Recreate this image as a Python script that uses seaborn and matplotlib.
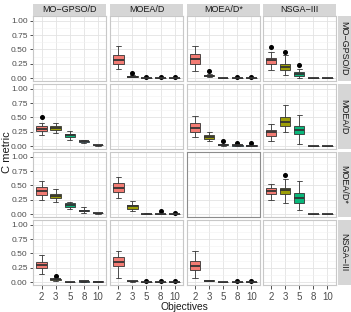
import numpy as np
import pandas as pd
import matplotlib
matplotlib.use("Agg")
import matplotlib.pyplot as plt
from matplotlib.patches import Rectangle
import seaborn as sns

sns.set_theme(style="white")
plt.rcParams['font.family'] = ['Liberation Sans', 'DejaVu Sans']

algos = ["MO\u2212GPSO/D", "MOEA/D", "MOEA/D*", "NSGA\u2212III"]
objectives = ["2", "3", "5", "8", "10"]
palette = ["#F8766D", "#A3A500", "#00BF7D", "#00B0F6", "#E76BF3"]

# panels that hold data: (row algorithm index, column algorithm index)
panel_rows = [0, 0, 0, 1, 1, 1, 2, 2, 2, 3, 3, 3]
panel_cols = [1, 2, 3, 0, 2, 3, 0, 1, 3, 0, 1, 2]

# box statistics per panel, one value per objective (2, 3, 5, 8, 10)
lo = [
    [0.17, 0.015, 0.000, 0.000, 0.000],
    [0.12, 0.020, 0.000, 0.000, 0.000],
    [0.15, 0.060, 0.010, 0.000, 0.000],
    [0.20, 0.230, 0.110, 0.055, 0.010],
    [0.17, 0.090, 0.010, 0.000, 0.000],
    [0.10, 0.250, 0.040, 0.000, 0.000],
    [0.25, 0.220, 0.090, 0.030, 0.010],
    [0.29, 0.050, 0.005, 0.000, 0.000],
    [0.24, 0.200, 0.070, 0.000, 0.000],
    [0.15, 0.020, 0.000, 0.005, 0.000],
    [0.08, 0.010, 0.000, 0.000, 0.000],
    [0.08, 0.020, 0.000, 0.000, 0.000],
]
q1 = [
    [0.25, 0.025, 0.005, 0.004, 0.004],
    [0.24, 0.035, 0.001, 0.004, 0.005],
    [0.25, 0.140, 0.040, 0.001, 0.001],
    [0.26, 0.280, 0.160, 0.070, 0.015],
    [0.25, 0.130, 0.020, 0.010, 0.005],
    [0.18, 0.350, 0.210, 0.001, 0.001],
    [0.34, 0.280, 0.130, 0.050, 0.015],
    [0.39, 0.100, 0.008, 0.004, 0.003],
    [0.35, 0.345, 0.190, 0.001, 0.001],
    [0.25, 0.035, 0.003, 0.012, 0.006],
    [0.28, 0.015, 0.002, 0.004, 0.005],
    [0.22, 0.025, 0.002, 0.004, 0.008],
]
med = [
    [0.32, 0.030, 0.008, 0.007, 0.007],
    [0.33, 0.045, 0.002, 0.006, 0.008],
    [0.31, 0.200, 0.070, 0.002, 0.002],
    [0.30, 0.320, 0.190, 0.085, 0.020],
    [0.32, 0.165, 0.030, 0.020, 0.010],
    [0.24, 0.430, 0.280, 0.002, 0.002],
    [0.41, 0.315, 0.165, 0.065, 0.020],
    [0.46, 0.140, 0.010, 0.006, 0.005],
    [0.41, 0.420, 0.280, 0.002, 0.002],
    [0.30, 0.050, 0.005, 0.018, 0.010],
    [0.36, 0.020, 0.004, 0.006, 0.008],
    [0.28, 0.030, 0.003, 0.006, 0.011],
]
q3 = [
    [0.41, 0.040, 0.012, 0.010, 0.010],
    [0.42, 0.055, 0.004, 0.008, 0.011],
    [0.36, 0.250, 0.110, 0.003, 0.003],
    [0.35, 0.360, 0.220, 0.100, 0.025],
    [0.40, 0.190, 0.035, 0.030, 0.020],
    [0.29, 0.500, 0.350, 0.003, 0.003],
    [0.47, 0.350, 0.200, 0.080, 0.025],
    [0.54, 0.165, 0.013, 0.009, 0.008],
    [0.45, 0.460, 0.370, 0.003, 0.003],
    [0.355, 0.060, 0.007, 0.025, 0.015],
    [0.44, 0.025, 0.007, 0.009, 0.011],
    [0.37, 0.035, 0.005, 0.009, 0.014],
]
hi = [
    [0.56, 0.050, 0.015, 0.013, 0.013],
    [0.56, 0.070, 0.006, 0.010, 0.013],
    [0.45, 0.400, 0.160, 0.004, 0.004],
    [0.40, 0.400, 0.270, 0.110, 0.030],
    [0.53, 0.240, 0.045, 0.040, 0.030],
    [0.38, 0.710, 0.540, 0.004, 0.004],
    [0.58, 0.440, 0.220, 0.120, 0.030],
    [0.65, 0.230, 0.016, 0.012, 0.010],
    [0.53, 0.610, 0.570, 0.004, 0.004],
    [0.47, 0.070, 0.010, 0.030, 0.020],
    [0.54, 0.030, 0.010, 0.012, 0.014],
    [0.55, 0.045, 0.008, 0.012, 0.017],
]
out = [
    [np.nan, 0.090, 0.030, 0.025, 0.025],
    [np.nan, 0.130, np.nan, 0.020, 0.022],
    [0.54, 0.460, 0.230, np.nan, np.nan],
    [0.50, np.nan, np.nan, np.nan, np.nan],
    [np.nan, np.nan, 0.085, 0.065, 0.050],
    [np.nan, np.nan, np.nan, np.nan, np.nan],
    [np.nan, np.nan, np.nan, np.nan, np.nan],
    [np.nan, np.nan, np.nan, 0.055, 0.020],
    [np.nan, 0.680, np.nan, np.nan, np.nan],
    [np.nan, 0.110, np.nan, np.nan, np.nan],
    [np.nan, np.nan, 0.020, 0.022, 0.025],
    [np.nan, np.nan, np.nan, 0.022, 0.028],
]

# build a tidy table: a 9-point sample per box whose quartiles match the stats
records = []
for p in range(len(panel_rows)):
    for j, ob in enumerate(objectives):
        last = hi[p][j] if np.isnan(out[p][j]) else out[p][j]
        sample = [lo[p][j], q1[p][j], q1[p][j], med[p][j], med[p][j],
                  q3[p][j], q3[p][j], hi[p][j], last]
        for v in sample:
            records.append((p, ob, v))
df = pd.DataFrame(records, columns=["panel", "Objectives", "C"])

W, H = 351, 312
fig = plt.figure(figsize=(W / 100, H / 100), dpi=100)

col_left = [33.3, 110.0, 186.7, 262.7]
pan_w = 73.0
row_top = [16.0, 84.0, 152.0, 220.0]
pan_h = 65.2

def rect(x, y, w, h):
    return [x / W, 1 - (y + h) / H, w / W, h / H]

ylo, yhi = -0.05, 1.08
tick_col = "#4D4D4D"
fs_tick = 6.0

for r in range(4):
    for c in range(4):
        ax = fig.add_axes(rect(col_left[c], row_top[r], pan_w, pan_h))
        ax.set_facecolor("white")
        idx = [p for p in range(len(panel_rows)) if panel_rows[p] == r and panel_cols[p] == c]
        if idx:
            sub = df[df["panel"] == idx[0]]
            sns.boxplot(data=sub, x="Objectives", y="C", hue="Objectives",
                        order=objectives, hue_order=objectives, palette=palette,
                        legend=False, width=0.75, linewidth=0.6, linecolor="#333333",
                        saturation=0.92, ax=ax,
                        medianprops=dict(linewidth=1.3, color="#333333"),
                        flierprops=dict(marker="o", markerfacecolor="black",
                                        markeredgecolor="black", markersize=2.6))
        ax.set_xlim(-0.6, 4.6)
        ax.set_ylim(ylo, yhi)
        ax.set_xticks(range(5))
        ax.set_yticks([0, 0.25, 0.5, 0.75, 1.0])
        ax.set_yticks([0.125, 0.375, 0.625, 0.875], minor=True)
        ax.grid(True, which="major", color="#E3E3E3", linewidth=0.6)
        ax.grid(True, which="minor", axis="y", color="#F1F1F1", linewidth=0.4)
        ax.set_axisbelow(True)
        ax.set_xlabel("")
        ax.set_ylabel("")
        border = "#8C8C8C" if (r == 2 and c == 2) else "#C8C8C8"
        for s in ax.spines.values():
            s.set_visible(True)
            s.set_color(border)
            s.set_linewidth(0.8)
        ax.tick_params(axis="both", which="minor", length=0)
        if c == 0:
            ax.set_yticklabels(["0.00", "0.25", "0.50", "0.75", "1.00"])
            ax.tick_params(axis="y", which="major", length=2.5, width=0.6, color="#333333",
                           labelsize=fs_tick, labelcolor=tick_col, pad=1.5, left=True)
        else:
            ax.tick_params(axis="y", which="major", length=0, labelleft=False)
        if r == 3:
            ax.set_xticklabels(objectives)
            ax.tick_params(axis="x", which="major", length=2.8, width=0.6, color="#333333",
                           labelsize=fs_tick + 1.0, labelcolor=tick_col, pad=2.0, bottom=True)
        else:
            ax.tick_params(axis="x", which="major", length=0, labelbottom=False)

# strips
strip_fill = "#D6D6D6"
for c in range(4):
    sax = fig.add_axes(rect(col_left[c], 4.0, pan_w, 11.8))
    sax.add_patch(Rectangle((0, 0), 1, 1, transform=sax.transAxes, facecolor=strip_fill,
                            edgecolor="none"))
    sax.text(0.5, 0.5, algos[c], ha="center", va="center", fontsize=6.5, color="#1A1A1A",
             transform=sax.transAxes)
    sax.set_axis_off()
for r in range(4):
    sax = fig.add_axes(rect(337.5, row_top[r], 13.0, pan_h))
    sax.add_patch(Rectangle((0, 0), 1, 1, transform=sax.transAxes, facecolor=strip_fill,
                            edgecolor="none"))
    sax.text(0.5, 0.5, algos[r], ha="center", va="center", fontsize=6.5, color="#1A1A1A",
             rotation=-90, transform=sax.transAxes)
    sax.set_axis_off()

fig.text(7.5 / W, 1 - 152 / H, "C metric", rotation=90, ha="center", va="center",
         fontsize=8, color="#1A1A1A")
fig.text(184.5 / W, 1 - 311.8 / H, "Objectives", ha="center", va="bottom",
         fontsize=7.4, color="#1A1A1A")

fig.savefig("out.png", dpi=100)
